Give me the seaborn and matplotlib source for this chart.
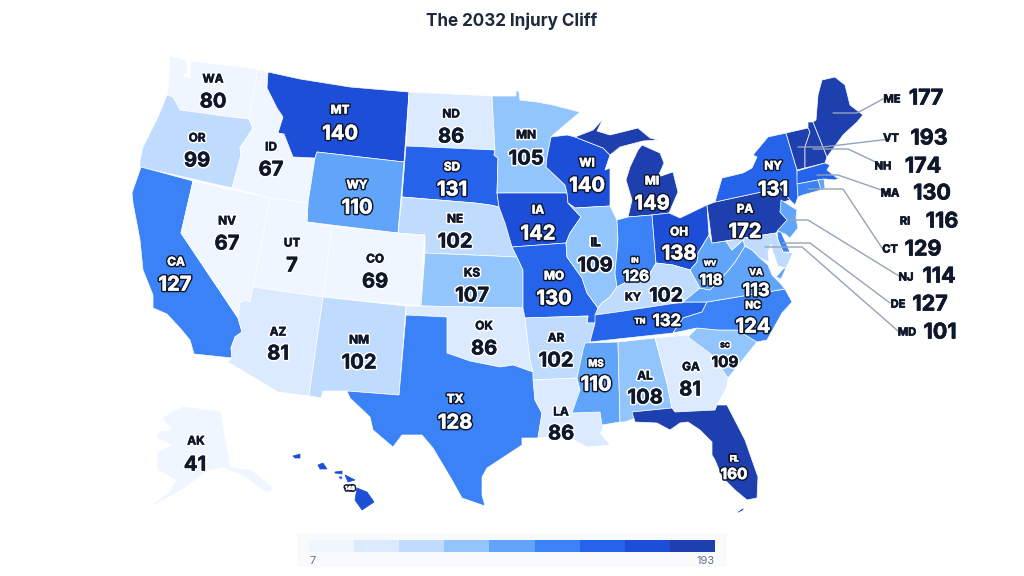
import numpy as np
import matplotlib
matplotlib.use("Agg")
import matplotlib.pyplot as plt
import matplotlib.patheffects as pe
from matplotlib.patches import Rectangle
import seaborn as sns

## DATA
states = ["WA", "OR", "CA", "NV", "ID", "MT", "WY", "UT", "CO", "AZ", "NM", "ND", "SD", "NE", "KS", "OK", "TX",
          "MN", "IA", "MO", "AR", "LA", "WI", "IL", "MI", "IN", "OH", "KY", "TN", "MS", "AL", "GA", "FL", "SC",
          "NC", "VA", "WV", "PA", "NY", "VT", "NH", "ME", "MA", "RI", "CT", "NJ", "DE", "MD", "AK", "HI"]
values = [80, 99, 127, 67, 67, 140, 110, 7, 69, 81, 102, 86, 131, 102, 107, 86, 128,
          105, 142, 130, 102, 86, 140, 109, 149, 126, 138, 102, 132, 110, 108, 81, 160, 109,
          124, 113, 118, 172, 131, 193, 174, 177, 130, 116, 129, 114, 127, 101, 41, 148]

blues = ["#eff6ff", "#dbeafe", "#bfdbfe", "#93c5fd", "#60a5fa", "#3b82f6", "#2563eb", "#1d4ed8", "#1e40af"]
bin_edges = [80.5, 95, 104, 110, 120, 130, 135, 148.5]
legend_labels = ["7", "193"]

## state outlines, in picture pixels
outlines = {
    "WA": [[(170, 56), (186, 60), (187, 72), (183, 76), (190, 78), (191, 61), (258, 69), (249, 119), (223, 116), (202, 113), (180, 110), (173, 97), (167, 95), (169, 77)]],
    "OR": [[(167, 95), (173, 97), (180, 110), (202, 113), (223, 116), (249, 119), (253, 128), (240, 148), (241, 155), (232, 188), (140, 167), (140, 160), (143, 147), (158, 117)]],
    "CA": [[(141, 167), (193, 181), (181, 233), (238, 318), (242, 332), (235, 337), (231, 348), (232, 358), (194, 354), (190, 340), (180, 328), (167, 314), (153, 308), (153, 295), (143, 270), (140, 240), (133, 203), (132, 193)]],
    "NV": [[(193, 181), (270, 198), (253, 287), (250, 302), (245, 300), (240, 303), (238, 318), (181, 233)]],
    "ID": [[(258, 69), (268, 72), (267, 88), (277, 108), (283, 117), (278, 133), (284, 134), (293, 157), (315, 158), (308, 203), (270, 198), (232, 188), (241, 155), (240, 148), (253, 128), (249, 119)]],
    "MT": [[(268, 72), (300, 79), (350, 87), (409, 92), (404, 162), (317, 152), (315, 158), (293, 157), (284, 134), (278, 133), (283, 117), (277, 108), (267, 88)]],
    "WY": [[(317, 152), (404, 162), (398, 233), (307, 222), (308, 203), (315, 158)]],
    "UT": [[(270, 198), (308, 203), (307, 222), (332, 226), (323, 297), (253, 287)]],
    "CO": [[(332, 226), (398, 233), (425, 236), (423, 253), (421, 306), (323, 297)]],
    "AZ": [[(253, 287), (323, 297), (309, 396), (278, 392), (228, 362), (232, 358), (231, 348), (235, 337), (242, 332), (238, 318), (240, 303), (245, 300), (250, 302)]],
    "NM": [[(323, 297), (406, 306), (399, 395), (347, 391), (323, 391), (321, 398), (309, 396)]],
    "ND": [[(409, 92), (492, 96), (495, 150), (406, 146)]],
    "SD": [[(406, 146), (495, 150), (494, 155), (498, 158), (497, 193), (499, 207), (490, 205), (475, 203), (402, 197)]],
    "NE": [[(402, 197), (475, 203), (490, 205), (499, 207), (505, 223), (512, 247), (517, 257), (425, 253), (425, 235), (398, 233)]],
    "KS": [[(425, 253), (517, 257), (523, 270), (523, 308), (421, 306)]],
    "OK": [[(406, 306), (421, 306), (523, 308), (525, 318), (530, 360), (533, 372), (513, 365), (500, 367), (470, 361), (447, 353), (447, 317), (406, 315)]],
    "TX": [[(406, 315), (447, 317), (447, 353), (470, 361), (500, 367), (513, 365), (533, 372), (535, 400), (542, 413), (538, 438), (522, 438), (522, 445), (487, 468), (482, 477), (482, 495), (485, 506), (462, 498), (452, 480), (433, 448), (422, 435), (402, 435), (393, 447), (373, 430), (370, 417), (350, 398), (347, 391), (399, 395)]],
    "MN": [[(492, 96), (516, 96), (516, 90), (519, 92), (520, 100), (537, 102), (553, 105), (580, 112), (553, 135), (551, 137), (547, 157), (546, 167), (565, 185), (567, 193), (497, 193), (498, 158), (494, 155), (495, 150)]],
    "IA": [[(497, 193), (567, 193), (568, 203), (581, 217), (570, 233), (566, 243), (512, 247), (505, 223), (499, 207)]],
    "MO": [[(512, 247), (566, 243), (567, 257), (582, 278), (587, 293), (598, 308), (595, 323), (587, 323), (588, 316), (525, 318), (523, 308), (523, 270), (517, 257)]],
    "AR": [[(525, 318), (588, 316), (587, 323), (595, 323), (590, 342), (583, 350), (577, 378), (533, 380), (533, 372), (530, 360)]],
    "LA": [[(533, 380), (577, 378), (580, 395), (572, 413), (600, 412), (603, 428), (600, 433), (610, 445), (587, 447), (570, 438), (550, 437), (538, 438), (542, 413), (535, 400)]],
    "WI": [[(551, 137), (567, 135), (575, 137), (603, 148), (610, 155), (605, 170), (610, 168), (610, 206), (575, 208), (568, 203), (567, 193), (565, 185), (546, 167), (547, 157)]],
    "IL": [[(575, 208), (610, 206), (617, 220), (618, 240), (615, 273), (617, 287), (610, 297), (602, 303), (598, 308), (587, 293), (582, 278), (567, 257), (566, 243), (570, 233), (581, 217), (568, 203)]],
    "MI": [[(575, 137), (593, 130), (603, 119), (597, 131), (610, 135), (638, 128), (650, 138), (658, 140), (643, 141), (620, 147), (610, 155), (603, 148)],
           [(642, 145), (660, 153), (664, 163), (658, 177), (673, 172), (678, 192), (669, 213), (652, 215), (628, 217), (632, 200), (626, 180), (630, 167), (638, 150)]],
    "IN": [[(617, 220), (628, 217), (652, 215), (656, 263), (652, 270), (643, 282), (630, 280), (617, 287), (615, 273), (618, 240)]],
    "OH": [[(652, 215), (669, 213), (680, 218), (707, 205), (709, 235), (698, 253), (697, 262), (690, 270), (673, 265), (656, 263)]],
    "KY": [[(656, 263), (673, 265), (690, 270), (700, 288), (683, 302), (617, 312), (595, 315), (598, 308), (602, 303), (610, 297), (617, 287), (630, 280), (643, 282), (652, 270)]],
    "TN": [[(595, 315), (617, 312), (683, 302), (707, 302), (702, 312), (683, 318), (673, 333), (590, 342), (595, 323)]],
    "MS": [[(585, 343), (618, 342), (620, 422), (602, 425), (600, 412), (572, 413), (580, 390), (577, 378), (583, 350)]],
    "AL": [[(618, 342), (655, 338), (667, 383), (672, 408), (633, 412), (635, 418), (625, 422), (620, 422)]],
    "GA": [[(655, 338), (687, 335), (712, 355), (728, 378), (727, 387), (717, 405), (715, 410), (675, 412), (672, 408), (667, 383)]],
    "FL": [[(632, 412), (672, 408), (675, 412), (715, 410), (717, 405), (727, 405), (745, 440), (758, 477), (757, 498), (747, 500), (735, 490), (722, 477), (715, 460), (712, 455), (712, 442), (700, 430), (688, 422), (680, 423), (670, 430), (657, 423), (635, 422)],
           [(737, 512), (743, 508), (744, 510), (738, 513)]],
    "SC": [[(688, 337), (697, 328), (718, 330), (737, 330), (757, 342), (728, 378), (712, 355)]],
    "NC": [[(707, 302), (785, 289), (792, 302), (782, 313), (767, 340), (757, 342), (737, 330), (718, 330), (697, 328), (673, 333), (683, 318), (702, 312)]],
    "VA": [[(683, 302), (700, 288), (710, 290), (727, 272), (735, 262), (745, 246), (752, 250), (760, 258), (768, 265), (772, 275), (780, 283), (785, 289), (707, 302)],
           [(776, 277), (784, 268), (786, 268), (781, 279)]],
    "WV": [[(709, 235), (712, 243), (726, 241), (732, 250), (743, 240), (745, 246), (735, 262), (727, 272), (710, 290), (700, 288), (690, 270), (697, 262), (698, 253)]],
    "PA": [[(707, 205), (715, 202), (780, 188), (790, 200), (783, 202), (780, 212), (788, 220), (776, 233), (712, 243)]],
    "NY": [[(715, 202), (722, 178), (743, 173), (752, 168), (757, 157), (753, 155), (768, 137), (786, 133), (797, 170), (798, 197), (795, 205), (790, 200), (780, 188)],
           [(800, 207), (817, 198), (803, 206)]],
    "VT": [[(786, 133), (808, 128), (810, 132), (805, 147), (805, 168), (797, 170)]],
    "NH": [[(808, 122), (813, 122), (827, 157), (825, 163), (805, 168), (805, 147), (810, 132), (808, 128)]],
    "ME": [[(813, 122), (816, 120), (818, 95), (822, 80), (835, 77), (845, 85), (850, 105), (863, 115), (857, 122), (843, 135), (827, 157)]],
    "MA": [[(797, 171), (825, 163), (830, 165), (827, 170), (837, 178), (843, 177), (835, 180), (825, 179), (818, 180), (797, 184)]],
    "RI": [[(818, 180), (824, 179), (825, 188), (821, 190)]],
    "CT": [[(797, 184), (818, 180), (821, 190), (803, 195), (798, 197)]],
    "NJ": [[(781, 200), (797, 210), (796, 218), (798, 228), (790, 238), (785, 234), (777, 231), (787, 220), (780, 212)]],
    "DE": [[(777, 232), (781, 232), (790, 252), (783, 252), (778, 240)]],
    "MD": [[(726, 241), (776, 233), (778, 240), (783, 252), (793, 253), (786, 268), (778, 266), (773, 252), (771, 244), (768, 252), (769, 262), (760, 258), (752, 250), (745, 246), (743, 240), (732, 250)]],
    "AK": [[(183, 407), (220, 412), (230, 468), (250, 470), (273, 488), (267, 492), (243, 475), (223, 467), (207, 470), (197, 478), (180, 490), (153, 505), (170, 492), (177, 480), (158, 470), (158, 453), (173, 445), (157, 438), (160, 432), (173, 430), (163, 418)]],
    "HI": [[(357, 488), (367, 492), (374, 502), (362, 510), (355, 500)],
           [(345, 475), (355, 480), (348, 482)],
           [(318, 465), (323, 463), (327, 469), (320, 469)],
           [(293, 456), (300, 454), (300, 458), (295, 458)],
           [(335, 472), (342, 471), (342, 474), (335, 473)],
           [(339, 477), (342, 477), (341, 479)]],
}

## label places: code x, code y, number x, number y, code size, number size
big = (8.5, 14.5)
labels = {
    "WA": (213, 78, 213, 101) + big, "OR": (197, 137, 197, 160) + big, "CA": (176, 261, 175, 284) + big,
    "NV": (227, 220, 227, 243) + big, "ID": (271, 146, 271, 169) + big, "MT": (340, 109, 340, 133) + big,
    "WY": (357, 184, 357, 207) + big, "UT": (292, 242, 292, 265) + big, "CO": (375, 258, 375, 281) + big,
    "AZ": (278, 331, 278, 353) + big, "NM": (359, 339, 359, 362) + big, "ND": (451, 113, 451, 136) + big,
    "SD": (452, 166, 452, 189) + big, "NE": (455, 218, 455, 241) + big, "KS": (472, 272, 472, 295) + big,
    "OK": (484, 325, 484, 348) + big, "TX": (455, 398, 455, 422) + big, "MN": (526, 134, 526, 158) + big,
    "IA": (538, 209, 538, 233) + big, "MO": (554, 275, 554, 298) + big, "AR": (556, 337, 556, 360) + big,
    "LA": (561, 411, 561, 433) + big, "WI": (587, 162, 587, 185) + big, "IL": (595, 241, 595, 265) + big,
    "MI": (652, 180, 652, 203) + big, "OH": (679, 231, 679, 253) + big, "NY": (773, 165, 773, 189) + big,
    "PA": (745, 208, 745, 231) + big, "GA": (691, 366, 690, 389) + big, "AL": (645, 375, 645, 397) + big,
    "AK": (196, 440, 195, 464) + big, "NC": (753, 304, 753, 326, 7.5, 14.5), "MS": (596, 362, 596, 384, 7, 14.5),
    "KY": (633, 296, 666, 295, 8, 14), "TN": (640, 320, 667, 320, 5.5, 12), "IN": (635, 259, 636, 275, 5, 11),
    "WV": (710, 262, 711, 279, 5, 11), "VA": (756, 271, 756, 290, 6.5, 13), "SC": (725, 344, 725, 361, 5, 11),
    "FL": (734, 457, 734, 473, 5, 11),
}

## states labelled off the map: code x, code y, number x, number y, leader line
side_labels = {
    "ME": (892, 98, 926, 97, [(833, 113), (857, 113), (883, 99)]),
    "VT": (891, 137, 929, 137, [(798, 147), (823, 147), (890, 139)]),
    "NH": (883, 165, 923, 165, [(813, 149), (848, 149), (882, 165)]),
    "MA": (890, 192, 932, 192, [(817, 175), (838, 175), (890, 193)]),
    "RI": (905, 220, 942, 220, None),
    "CT": (890, 248, 923, 248, [(808, 189), (843, 189), (882, 248)]),
    "NJ": (906, 276, 939, 275, [(788, 220), (808, 220), (899, 276)]),
    "DE": (898, 303, 930, 303, [(783, 243), (810, 243), (890, 303)]),
    "MD": (907, 331, 940, 331, [(765, 247), (802, 247), (898, 331)]),
}

sns.set_theme(style="white")
plt.rcParams["font.family"] = ["Inter", "DejaVu Sans"]

palette = sns.color_palette(blues)
value_of = dict(zip(states, values))
color_step = {s: int(np.digitize(value_of[s], bin_edges)) for s in states}

dark = "#0f172a"
nudge = 1.5  # va="center" sits a bit high for these fonts

fig = plt.figure(figsize=(10.24, 5.76), dpi=100)
ax = fig.add_axes([0, 0, 1, 1])
ax.set_xlim(0, 1024)
ax.set_ylim(576, 0)
ax.axis("off")


def put_text(x, y, text, size, step):
    # dark fills get white text with a dark ring, light fills the other way round
    if step >= 4:
        color, ring = "white", dark
    else:
        color, ring = dark, "white"
    ax.text(x, y + nudge, text, fontsize=size, fontweight="bold", color=color, ha="center", va="center", zorder=6,
            path_effects=[pe.Stroke(linewidth=2.6, foreground=ring), pe.Stroke(linewidth=0.4, foreground=color), pe.Normal()])


for s in states:
    edge = "white" if s not in ("HI", "AK") else palette[color_step[s]]
    for part in outlines[s]:
        xy = np.array(part)
        ax.fill(xy[:, 0], xy[:, 1], facecolor=palette[color_step[s]], edgecolor=edge, linewidth=0.5, zorder=2)

for s, (cx, cy, nx, ny, code_size, num_size) in labels.items():
    put_text(cx, cy, s, code_size, color_step[s])
    put_text(nx, ny, str(value_of[s]), num_size, color_step[s])

## the tiny Hawaii number has no code next to it
put_text(350, 487, str(value_of["HI"]), 4, color_step["HI"])

heavy = [pe.withStroke(linewidth=0.5, foreground=dark)]
for s, (cx, cy, nx, ny, line) in side_labels.items():
    ax.text(cx, cy + nudge, s, fontsize=8, fontweight="bold", color=dark, ha="center", va="center", zorder=6, path_effects=heavy)
    ax.text(nx, ny + nudge, str(value_of[s]), fontsize=15.5, fontweight="bold", color=dark, ha="center", va="center", zorder=6, path_effects=heavy)
    if line:
        xy = np.array(line)
        ax.plot(xy[:, 0], xy[:, 1], color="#94a3b8", linewidth=1, zorder=5)

ax.text(512, 21, "The 2032 Injury Cliff", fontsize=12.3, fontweight="bold", color="#1e293b", ha="center", va="center")

## legend
ax.add_patch(Rectangle((297, 533), 430, 34, facecolor="#f8fafc", edgecolor="none", zorder=1))
cax = fig.add_axes([309 / 1024, 1 - 552 / 576, 406 / 1024, 12 / 576])
sns.heatmap(np.arange(len(blues)).reshape(1, -1), cmap=palette, cbar=False, xticklabels=False, yticklabels=False, ax=cax)
ax.text(309, 561, legend_labels[0], fontsize=8, color="#64748b", ha="left", va="center")
ax.text(715, 561, legend_labels[1], fontsize=8, color="#64748b", ha="right", va="center")

fig.savefig("out.png", dpi=100)
